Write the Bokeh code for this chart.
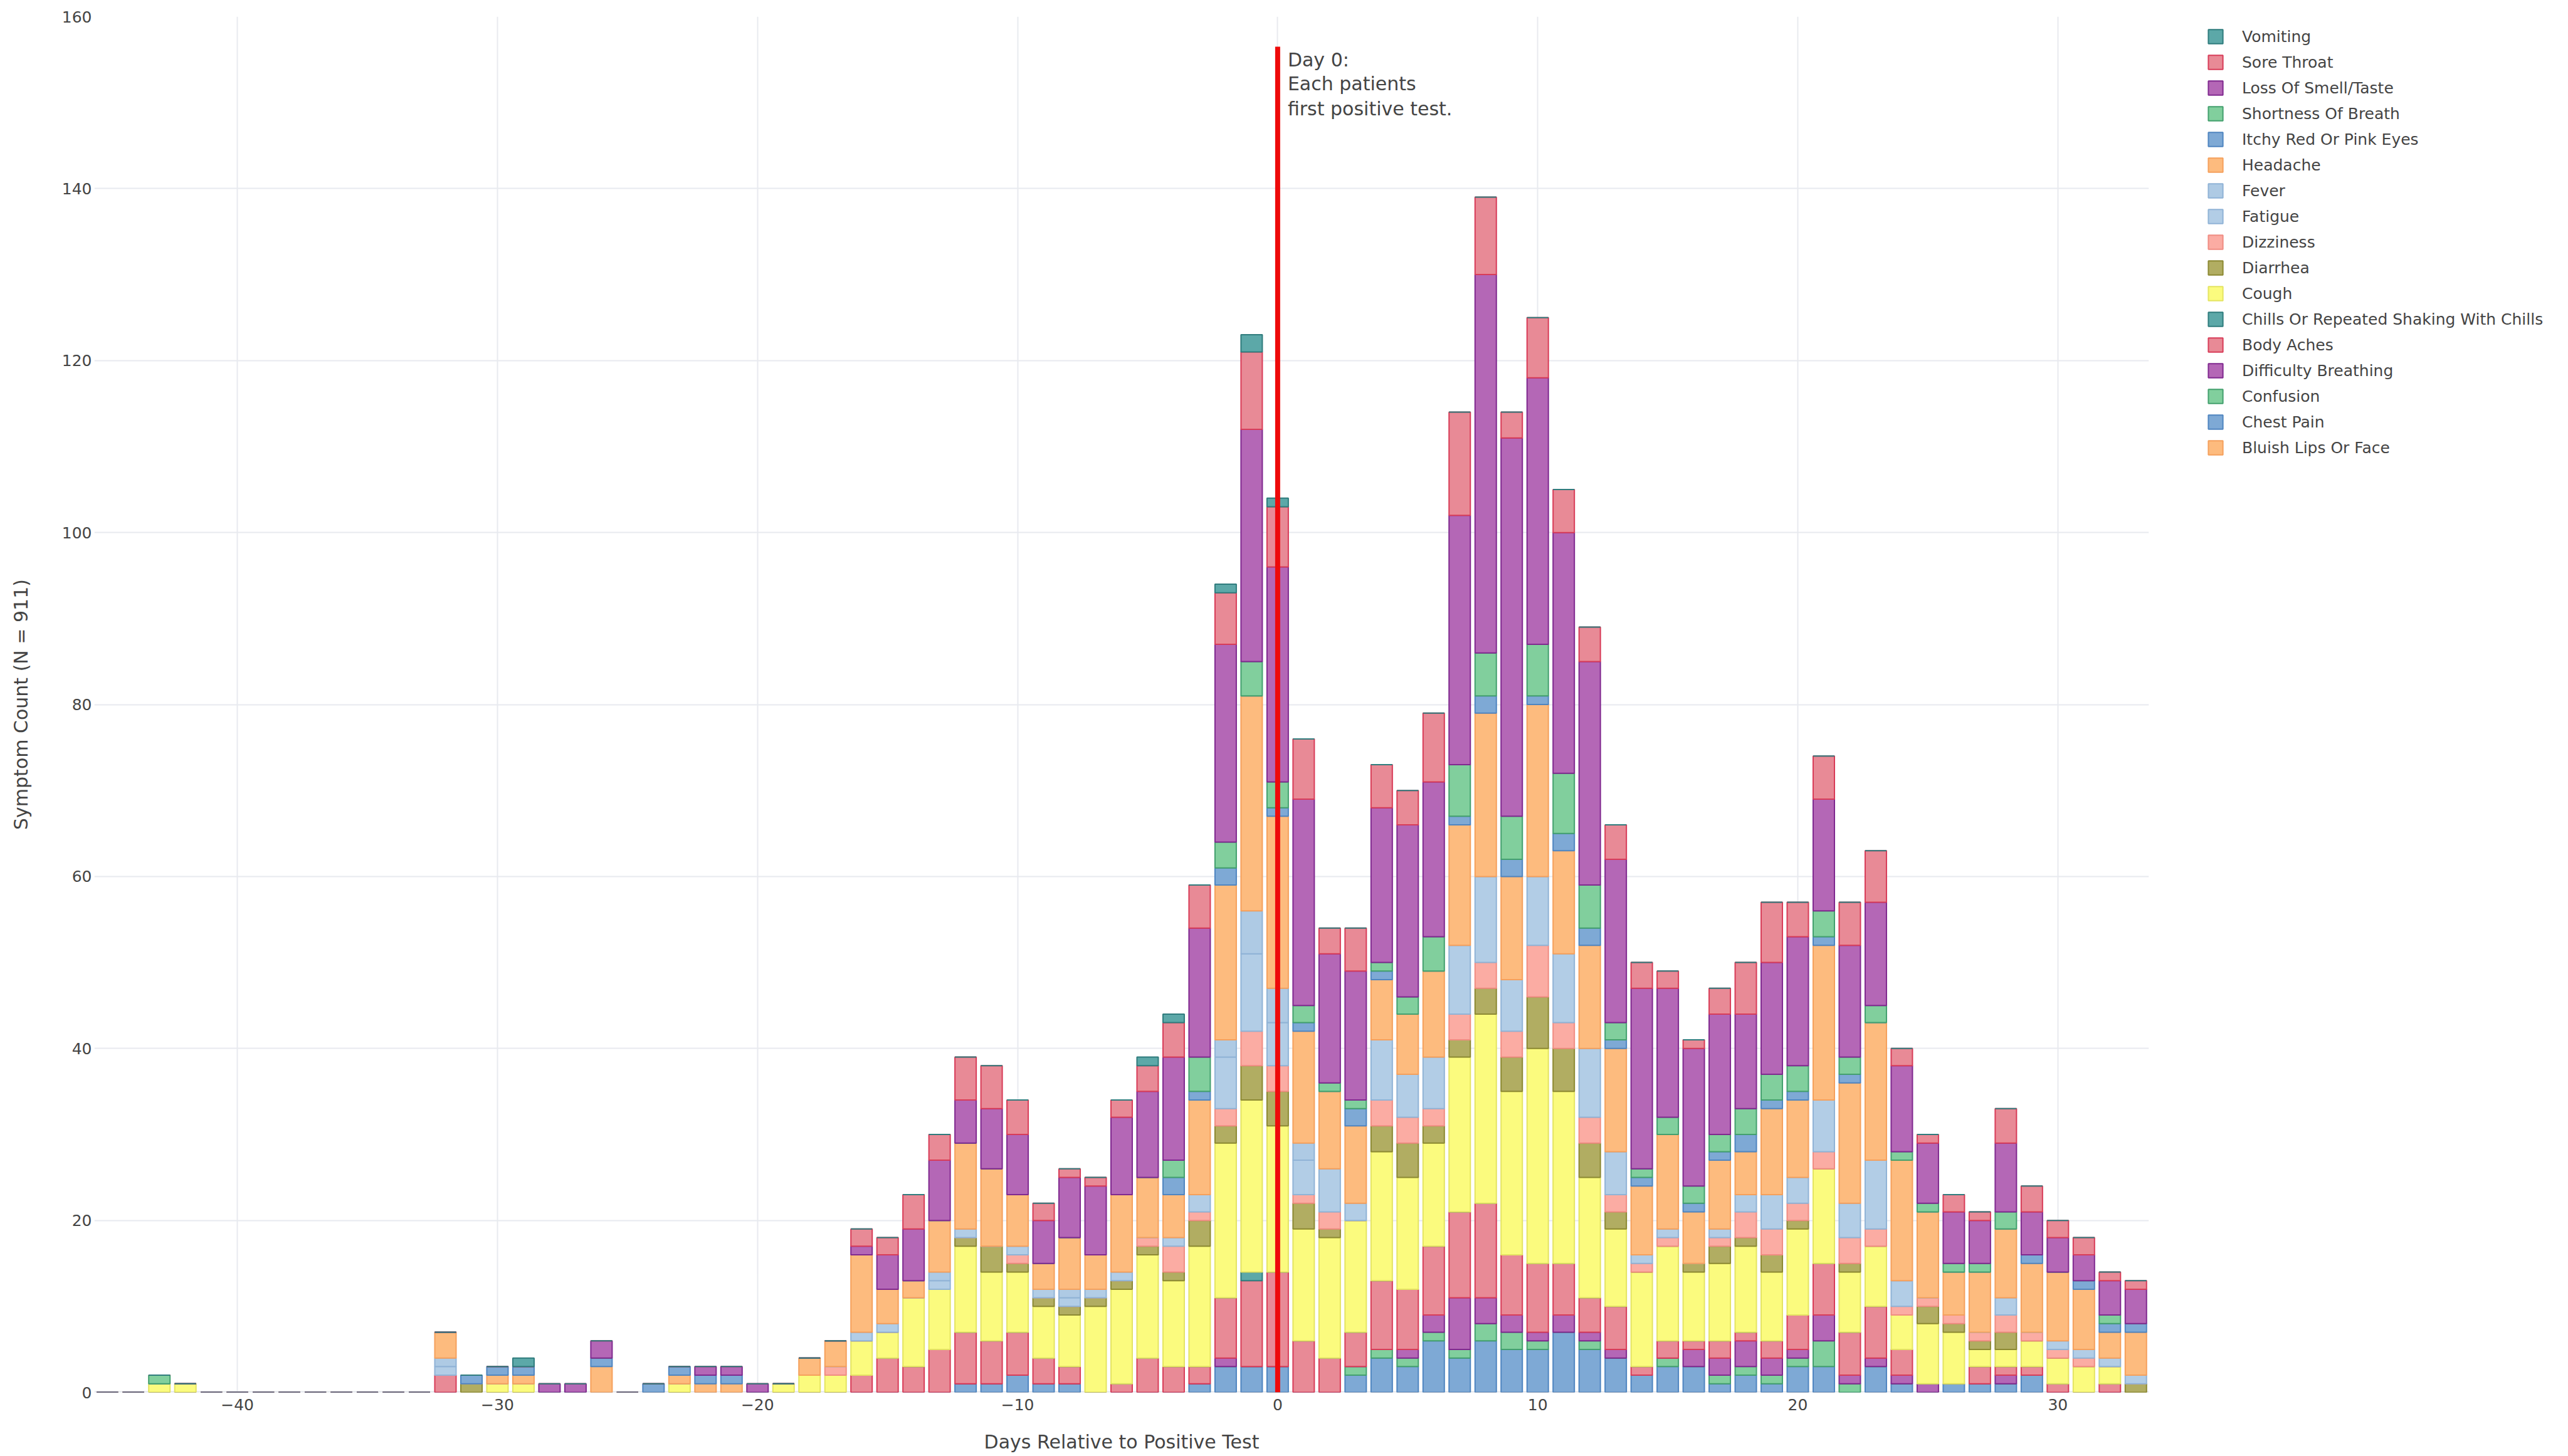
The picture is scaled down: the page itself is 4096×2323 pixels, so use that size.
import numpy as np
from bokeh.plotting import figure
from bokeh.layouts import row
from bokeh.models import ColumnDataSource, Range1d, Legend, LegendItem, Label, Span, FixedTicker
from bokeh.embed import file_html
from bokeh.resources import INLINE

# ---------------- data ----------------
days = list(range(-45, 34))  # 79 days

#            -45..-36                 -35..-26                 -25..-16                 -15..-6                   -5..4                          5..14                          15..24                       25..33
bluish_lips = [0,0,0,0,0,0,0,0,0,0,  0,0,0,0,0,0,0,0,0,0,  0,0,0,0,0,0,0,0,0,0,  0,0,0,0,0,0,0,0,0,0,  0,0,0,0,0,0,0,0,0,0,        0,0,0,0,0,0,0,0,0,0,         0,0,0,0,0,0,0,0,0,0,      0,0,0,0,0,0,0,0,0]
chest_pain  = [0,0,0,0,0,0,0,0,0,0,  0,0,0,0,0,0,0,0,0,0,  0,0,0,0,0,0,0,0,0,0,  0,0,0,1,1,2,1,1,0,0,  0,0,1,3,3,3,0,0,2,4,        3,6,4,6,5,5,7,5,4,2,         3,3,1,2,1,3,3,0,3,1,      0,1,1,1,2,0,0,0,0]
confusion   = [0,0,0,0,0,0,0,0,0,0,  0,0,0,0,0,0,0,0,0,0,  0,0,0,0,0,0,0,0,0,0,  0,0,0,0,0,0,0,0,0,0,  0,0,0,0,0,0,0,0,1,1,        1,1,1,2,2,1,0,1,0,0,         1,0,1,1,1,1,3,1,0,0,      0,0,0,0,0,0,0,0,0]
difficulty  = [0,0,0,0,0,0,0,0,0,0,  0,0,0,0,0,0,0,0,0,0,  0,0,0,0,0,0,0,0,0,0,  0,0,0,0,0,0,0,0,0,0,  0,0,0,1,0,0,0,0,0,0,        1,2,6,3,2,1,2,1,1,0,         0,2,2,3,2,1,3,1,1,1,      1,0,0,1,0,0,0,0,0]
body_aches  = [0,0,0,0,0,0,0,0,0,0,  0,0,0,2,0,0,0,0,0,0,  0,0,0,0,0,0,0,0,0,2,  4,3,5,6,5,5,3,2,0,1,  4,3,2,7,10,11,6,4,4,8,      7,8,10,11,7,8,6,4,5,1,       2,1,2,1,2,4,6,5,6,3,      0,0,2,1,1,1,0,1,0]
chills      = [0,0,0,0,0,0,0,0,0,0,  0,0,0,0,0,0,0,0,0,0,  0,0,0,0,0,0,0,0,0,0,  0,0,0,0,0,0,0,0,0,0,  0,0,0,0,1,0,0,0,0,0,        0,0,0,0,0,0,0,0,0,0,         0,0,0,0,0,0,0,0,0,0,      0,0,0,0,0,0,0,0,0]
cough       = [0,0,1,1,0,0,0,0,0,0,  0,0,0,0,0,1,1,0,0,0,  0,0,1,0,0,0,1,2,2,4,  3,8,7,10,8,7,6,6,10,11, 12,10,14,18,20,17,13,14,13,15, 13,12,18,22,19,25,20,14,9,11, 11,8,9,10,8,10,11,7,7,4, 7,6,2,2,3,3,3,2,0]
diarrhea    = [0,0,0,0,0,0,0,0,0,0,  0,0,0,0,1,0,0,0,0,0,  0,0,0,0,0,0,0,0,0,0,  0,0,0,1,3,1,1,1,1,1,  1,1,3,2,4,4,3,1,0,3,        4,2,2,3,4,6,5,4,2,0,         0,1,2,1,2,1,0,1,0,0,      2,1,1,2,0,0,0,0,1]
dizziness   = [0,0,0,0,0,0,0,0,0,0,  0,0,0,0,0,0,0,0,0,0,  0,0,0,0,0,0,0,0,1,0,  0,0,0,0,0,1,0,0,0,0,  1,3,1,2,4,3,1,2,0,3,        3,2,3,3,3,6,3,3,2,1,         1,0,1,3,3,2,2,3,2,1,      1,1,1,2,1,1,1,0,0]
fatigue     = [0,0,0,0,0,0,0,0,0,0,  0,0,0,1,0,0,0,0,0,0,  0,0,0,0,0,0,0,0,0,1,  1,0,1,1,0,1,1,1,1,1,  0,1,2,6,9,5,4,5,2,7,        5,6,8,10,6,8,8,8,5,1,        1,0,1,2,4,3,6,4,8,3,      0,0,0,2,0,1,1,1,1]
fever       = [0,0,0,0,0,0,0,0,0,0,  0,0,0,1,0,0,0,0,0,0,  0,0,0,0,0,0,0,0,0,0,  0,0,1,0,0,0,0,1,0,0,  0,0,0,2,5,4,2,0,0,0,        0,0,0,0,0,0,0,0,0,0,         0,0,0,0,0,0,0,0,0,0,      0,0,0,0,0,0,0,0,0]
headache    = [0,0,0,0,0,0,0,0,0,0,  0,0,0,3,0,1,1,0,0,3,  0,0,1,1,1,0,0,2,3,9,  4,2,6,10,9,6,3,6,4,9,  7,5,11,18,25,20,13,9,9,7,   7,10,14,19,12,20,12,12,12,8, 11,6,8,5,10,9,18,14,16,14, 10,5,7,8,8,8,7,3,5]
itchy_eyes  = [0,0,0,0,0,0,0,0,0,0,  0,0,0,0,1,1,1,0,0,1,  0,1,1,1,1,0,0,0,0,0,  0,0,0,0,0,0,0,0,0,0,  0,2,1,2,0,1,1,0,2,1,        0,0,1,2,2,1,2,2,1,1,         0,1,1,2,1,1,1,1,0,0,      0,0,0,0,1,0,1,1,1]
shortness   = [0,0,1,0,0,0,0,0,0,0,  0,0,0,0,0,0,0,0,0,0,  0,0,0,0,0,0,0,0,0,0,  0,0,0,0,0,0,0,0,0,0,  0,2,4,3,4,3,2,1,1,1,        2,4,6,5,5,6,7,5,2,1,         2,2,2,3,3,3,3,2,2,1,      1,1,1,2,0,0,0,1,0]
loss_smell  = [0,0,0,0,0,0,0,0,0,0,  0,0,0,0,0,0,0,1,1,2,  0,0,0,1,1,1,0,0,0,1,  4,6,7,5,7,7,5,7,8,9,  10,12,15,23,27,25,24,15,15,18, 20,18,29,44,44,31,28,26,19,21, 15,16,14,11,13,15,13,13,12,10, 7,6,5,8,5,4,3,4,4]
sore_throat = [0,0,0,0,0,0,0,0,0,0,  0,0,0,0,0,0,0,0,0,0,  0,0,0,0,0,0,0,0,0,2,  2,4,3,5,5,4,2,1,1,2,  3,4,5,6,9,7,7,3,5,5,        4,8,12,9,3,7,5,4,4,3,        2,1,3,6,7,4,5,5,6,2,      1,2,1,4,3,2,2,1,1]
vomiting    = [0,0,0,0,0,0,0,0,0,0,  0,0,0,0,0,0,1,0,0,0,  0,0,0,0,0,0,0,0,0,0,  0,0,0,0,0,0,0,0,0,0,  1,1,0,1,2,1,0,0,0,0,        0,0,0,0,0,0,0,0,0,0,         0,0,0,0,0,0,0,0,0,0,      0,0,0,0,0,0,0,0,0]

x_ticks = [-40, -30, -20, -10, 0, 10, 20, 30]
y_ticks = [0, 20, 40, 60, 80, 100, 120, 140, 160]
day0_line_top = 156.5
annotation_lines = ["Day 0:", "Each patients", "first positive test."]
annotation_y = [155.0, 152.2, 149.3]

# ---------------- styling ----------------
ORANGE = ("#FDBB7E", "#F5A05C")
BLUE = ("#7EA9D5", "#4F85C0")
GREEN = ("#81CF9D", "#43A06E")
PURPLE = ("#B467B6", "#80298F")
PINK = ("#E88A96", "#D83C58")
TEAL = ("#5CA8A8", "#2F7C7D")
YELLOW = ("#FBFB7E", "#E4E462")
OLIVE = ("#B1AD62", "#8C8932")
SALMON = ("#FBACA3", "#F08C82")
LBLUE = ("#B2CDE6", "#90B3D6")
LBLUE2 = ("#AECAE4", "#90B3D6")

# stack order, bottom -> top
series = [
    ("Bluish Lips Or Face", bluish_lips, ORANGE),
    ("Chest Pain", chest_pain, BLUE),
    ("Confusion", confusion, GREEN),
    ("Difficulty Breathing", difficulty, PURPLE),
    ("Body Aches", body_aches, PINK),
    ("Chills Or Repeated Shaking With Chills", chills, TEAL),
    ("Cough", cough, YELLOW),
    ("Diarrhea", diarrhea, OLIVE),
    ("Dizziness", dizziness, SALMON),
    ("Fatigue", fatigue, LBLUE),
    ("Fever", fever, LBLUE2),
    ("Headache", headache, ORANGE),
    ("Itchy Red Or Pink Eyes", itchy_eyes, BLUE),
    ("Shortness Of Breath", shortness, GREEN),
    ("Loss Of Smell/Taste", loss_smell, PURPLE),
    ("Sore Throat", sore_throat, PINK),
    ("Vomiting", vomiting, TEAL),
]

FONT = "DejaVu Sans"
TXT = "#444444"
H = 2320

p = figure(width=3447, height=H,
           x_range=Range1d(-45.5, 33.5), y_range=Range1d(0, 160),
           output_backend="svg", toolbar_location=None,
           min_border_left=150, min_border_right=20,
           min_border_top=26, min_border_bottom=98,
           background_fill_color="white", border_fill_color="white",
           outline_line_color=None)

# grid
for g in (p.xgrid, p.ygrid):
    g.grid_line_color = "#E8EAEF"
    g.grid_line_width = 2
p.xgrid.ticker = FixedTicker(ticks=x_ticks)
p.ygrid.ticker = FixedTicker(ticks=y_ticks)
p.add_layout(Span(location=0, dimension="width", line_color="#E3E6EC",
                  line_width=4, level="underlay"))

# bars
bottom = np.zeros(len(days))
sources = []
for name, vals, (fill, line) in series:
    v = np.array(vals, dtype=float)
    src = ColumnDataSource(dict(x=days, bottom=bottom.copy(), top=bottom + v))
    sources.append(src)
    p.vbar(x="x", bottom="bottom", top="top", width=0.82, source=src,
           fill_color=fill, line_color=line, line_width=2)
    bottom = bottom + v

# day 0 line
p.segment(x0=[0], y0=[0], x1=[0], y1=[day0_line_top], line_color="#EE0A0A", line_width=8)

for txt, yy in zip(annotation_lines, annotation_y):
    p.add_layout(Label(x=0, y=yy, x_offset=16, text=txt, text_baseline="middle",
                       text_align="left", text_font=FONT, text_font_size="30px",
                       text_color=TXT))

# axes
for ax in (p.xaxis, p.yaxis):
    ax.axis_line_color = None
    ax.major_tick_line_color = None
    ax.minor_tick_line_color = None
    ax.major_tick_out = 0
    ax.major_tick_in = 0
    ax.minor_tick_out = 0
    ax.major_label_text_font = FONT
    ax.major_label_text_font_size = "25px"
    ax.major_label_text_color = TXT
    ax.axis_label_text_font = FONT
    ax.axis_label_text_font_size = "30px"
    ax.axis_label_text_font_style = "normal"
    ax.axis_label_text_color = TXT

p.xaxis.ticker = FixedTicker(ticks=x_ticks)
p.xaxis.major_label_overrides = {t: (("\u2212" + str(-t)) if t < 0 else str(t)) for t in x_ticks}
p.xaxis.major_label_standoff = 10
p.xaxis.axis_label = "Days Relative to Positive Test"
p.xaxis.axis_label_standoff = 30

p.yaxis.ticker = FixedTicker(ticks=y_ticks)
p.yaxis.major_label_standoff = 4
p.yaxis.axis_label = "Symptom Count (N = 911)"
p.yaxis.axis_label_standoff = 45

# ---------------- legend panel (separate canvas to the right) ----------------
# the same series are attached here as hidden renderers; only the legend shows
pl = figure(width=4092 - 3447, height=H, x_range=Range1d(-45.5, 33.5),
            y_range=Range1d(0, 160),
            output_backend="svg", toolbar_location=None, title=None,
            x_axis_location=None, y_axis_location=None,
            min_border=0, min_border_left=0, min_border_right=0,
            min_border_top=0, min_border_bottom=0,
            background_fill_color="white", border_fill_color="white",
            outline_line_color=None)
pl.xgrid.visible = False
pl.ygrid.visible = False

items = []
for (name, vals, (fill, line)), src in reversed(list(zip(series, sources))):
    proxy = pl.vbar(x="x", bottom="bottom", top="top", width=0.82, source=src,
                    fill_color=fill, line_color=line, line_width=2, visible=False)
    items.append(LegendItem(label=name, renderers=[proxy]))

legend = Legend(items=items, location=(72, 1492),
                glyph_width=29, glyph_height=28, label_height=30, spacing=11,
                label_standoff=28, padding=0, margin=0,
                label_text_font=FONT, label_text_font_size="25px",
                label_text_color=TXT, background_fill_alpha=0,
                border_line_alpha=0, inactive_fill_alpha=0)
pl.add_layout(legend)

layout = row(p, pl)
open("out.html", "w").write(file_html(layout, INLINE))
